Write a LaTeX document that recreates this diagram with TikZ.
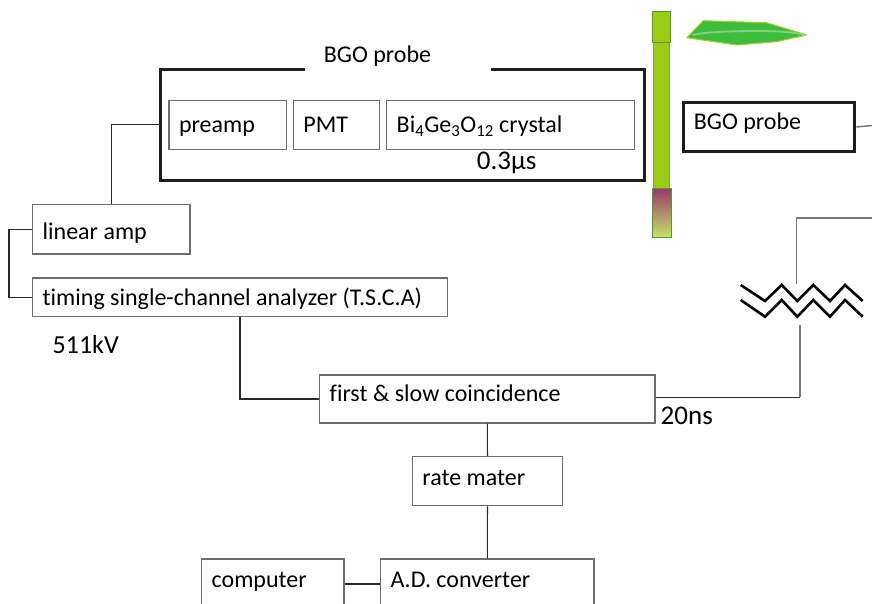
\documentclass[tikz,border=0pt]{standalone}
\usepackage{fontspec}
\setmainfont{Carlito}[Ligatures=NoCommon]
\usetikzlibrary{calc}

\definecolor{boxgray}{HTML}{6E6E6E}
\definecolor{wire}{HTML}{2A2A2A}
\definecolor{wiregray}{HTML}{7A7A7A}
\definecolor{framecol}{HTML}{1E1E1E}
\definecolor{stem}{HTML}{9BCB14}
\definecolor{stemedge}{HTML}{4F9E2D}
\definecolor{stemedgelight}{HTML}{6DB546}
\definecolor{budtop}{HTML}{9B3A6E}
\definecolor{budmid}{HTML}{A7A562}
\definecolor{budbot}{HTML}{C5E266}
\definecolor{leaf}{HTML}{3DBC3D}
\definecolor{leafedge}{HTML}{A8D620}
\definecolor{leafvein}{HTML}{80D680}

\begin{document}
\begin{tikzpicture}[x=1pt,y=-1pt,
  every node/.style={font=\fontsize{24}{28}\selectfont},
  % box: width, height, baseline offset below centre
  blk/.style n args={3}{draw=boxgray, line width=1.4pt, anchor=north west,
    inner sep=0pt, align=left,
    execute at begin node={\spaceskip=0pt\xspaceskip=0pt\relax},
    /utils/exec={\pgfmathsetmacro\bxtw{#1-20}\pgfmathsetmacro\bxth{12+#3}\pgfmathsetmacro\bxtd{12-#3}},
    minimum width=#1pt, minimum height=#2pt,
    text width=\bxtw pt, text height=\bxth pt, text depth=\bxtd pt},
  thickframe/.style={draw=framecol, line width=3pt},
  wireline/.style={draw=wire, line width=1.2pt},
  graywire/.style={draw=wiregray, line width=1.5pt},
  zigzag/.style={draw=black, line width=2.6pt, line join=miter},
  biglabel/.style={font=\fontsize{27}{30}\selectfont, inner sep=0pt}
]
\useasboundingbox (0,0) rectangle (872,604);
\clip (0,0) rectangle (872,604);

% ---------- BGO probe assembly ----------
\node[draw=none, anchor=north west, inner sep=0pt,
      minimum width=483.6pt, minimum height=110.7pt] (probe) at (160.7,69.3) {};
\draw[thickframe, line cap=butt]
  ($(probe.north west)+(144.3,0)$) -- (probe.north west) -- (probe.south west)
  -- (probe.south east) -- (probe.north east) -- ($(probe.north east)+(-153.6,0)$);
\node[anchor=base, inner sep=0pt] (probetitle) at (377.5,63) {BGO probe};

\node[blk={117.7}{49}{7.2}] (preamp) at (168.3,100) {preamp};
\node[blk={86.3}{49}{7.2}] (pmt) at (292.7,100) {PMT};
\node[blk={248}{49}{7.2}] (crystal) at (386,100)
  {Bi\textsubscript{4}Ge\textsubscript{3}O\textsubscript{12} crystal};
\node[biglabel, anchor=base] (tau) at (506.7,169.3) {0.3µs};

% ---------- signal chain ----------
\node[blk={157.3}{49.3}{10.6}] (linamp) at (32,204) {linear amp};
\node[blk={414.7}{38.7}{8.3}] (tsca) at (32,277.3)
  {timing single-channel analyzer (T.S.C.A)};
\node[biglabel, font=\fontsize{26}{30}\selectfont, anchor=base west] (energy) at (52.5,353) {511kV};

\node[blk={335.3}{48}{2.7}] (coinc) at (319,374.3) {first \& slow coincidence};
\node[biglabel, anchor=base west] (window) at (660.5,424.3) {20ns};

\node[blk={150}{49}{3.8}] (rate) at (411.7,456) {rate mater};
\node[blk={142.3}{50}{3.7}] (computer) at (201,558.3) {computer};
\node[blk={213.3}{50}{3.7}] (adc) at (380,558.3) {A.D. converter};

% ---------- second probe ----------
\node[blk={171}{48.4}{2.2}, thickframe] (probeR) at (682.3,101.3) {BGO probe};
\coordinate (probeRout) at (872,125.5);

% ---------- delay line ----------
\draw[zigzag] (740.7,285) -- (765,301) -- (781.7,285) -- (797.3,301)
  -- (813.3,285) -- (830,301) -- (845,285) -- (862.7,301);
\draw[zigzag] (740.7,300) -- (765,316.7) -- (781.7,300) -- (797.3,316.7)
  -- (813.3,300) -- (830,316.7) -- (845,300) -- (862.7,316.7);
\coordinate (delaytop) at (796.7,284);
\coordinate (delaybot) at (800,325);
\coordinate (delayout) at (872,218);
\coordinate (coincturn) at (800,397.3);

% ---------- connectors ----------
\draw[wireline] (probe.west) -| (linamp.north);
\draw[wireline] (linamp.west) -- ++(-23,0) |- (tsca.west);
\draw[wireline] (tsca.south) |- (coinc.west);
\draw[wireline] (coinc.east |- coincturn) -- (coincturn);
\draw[graywire] (coincturn) -- (delaybot);
\draw[graywire] (delaytop) |- (delayout);
\draw[graywire] (probeR.east) -- (probeRout);
\draw[wireline] (coinc.south) -- (rate.north);
\draw[wireline] (rate.south) -- (adc.north);
\draw[wireline] (computer.east) -- (adc.west);

% ---------- plant ----------
\filldraw[fill=stem, draw=stemedgelight, line width=1pt] (653,42.7) rectangle (669,189);
\filldraw[fill=stem, draw=stemedge, line width=1pt] (652.3,11.7) rectangle (670,42.7);
\shade[top color=budtop, middle color=budmid, bottom color=budbot] (652,189) rectangle (671,237);
\draw[stemedge, line width=1pt] (652,189) rectangle (671,237);

\filldraw[fill=leaf, draw=leafedge, line width=1pt, line join=round]
  (686.7,37.7) -- (703.3,20.7) -- (766.7,22.7) -- (806.7,35)
  -- (776.7,41.7) -- (736.7,45) -- cycle;
\draw[leafvein, line width=1.8pt, line cap=round]
  (693.3,35) .. controls (705,32) and (730,31) .. (760,31)
  .. controls (785,31.2) and (798,33) .. (804,34.7);
\end{tikzpicture}
\end{document}
